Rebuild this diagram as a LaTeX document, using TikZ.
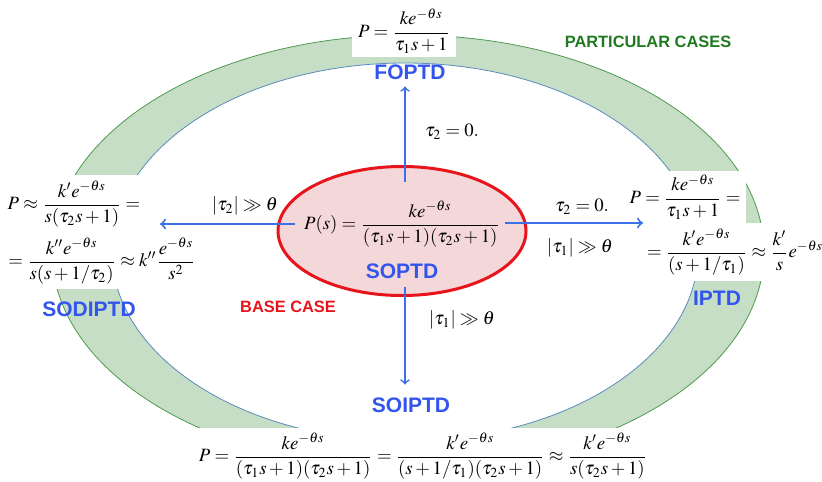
\documentclass[tikz,border=0pt]{standalone}
\usepackage{amsmath}
\usepackage{mathptmx}
\usepackage[no-math]{fontspec}
\newfontfamily\labelfont{Liberation Sans}
\usetikzlibrary{positioning,shapes.geometric}
\definecolor{RingGreen}{HTML}{C6DEC6}
\definecolor{RingEdge}{HTML}{4E9A4E}
\definecolor{InnerEdge}{HTML}{5A8CBC}
\definecolor{Pink}{HTML}{F4D7D9}
\definecolor{BaseRed}{HTML}{E8141B}
\definecolor{CaseBlue}{HTML}{3355EE}
\definecolor{ArrBlue}{HTML}{3F6FE6}
\definecolor{CaseGreen}{HTML}{1F7A1F}

\begin{document}
\begin{tikzpicture}[x=.5pt,y=-.5pt,
        every node/.style={font=\fontsize{9.4}{11}\selectfont},
        box/.style={fill=white,inner xsep=3pt,inner ysep=2pt},
        case/.style={font=\labelfont\bfseries\fontsize{10.5}{12}\selectfont,text=CaseBlue},
        note/.style={font=\labelfont\bfseries\fontsize{8.2}{10}\selectfont},
        arr/.style={->,ArrBlue,line width=.8pt}
      ]
        \useasboundingbox (0,0) rectangle (822,481);
        % ring of particular cases
        \fill[RingGreen,even odd rule] (408,252) ellipse [x radius=356,y radius=217]
                                       (405,252) ellipse [x radius=293,y radius=189];
        \draw[RingEdge,line width=.4pt] (408,252) ellipse [x radius=356,y radius=217];
        \draw[InnerEdge,line width=.4pt] (405,252) ellipse [x radius=293,y radius=189];
        % base case
        \node[ellipse,draw=BaseRed,fill=Pink,line width=1.5pt,inner sep=0pt,
              minimum width=124pt,minimum height=64.5pt] (base) at (402,231) {};
        \node (baseeq) at (402,224) {$P(s)=\dfrac{ke^{-\theta s}}{(\tau_1 s+1)(\tau_2 s+1)}$};
        \node[case] (soptd) at (402,271) {SOPTD};
        % particular cases
        \node[box] (foptdeq) at (404,31) {$P=\dfrac{ke^{-\theta s}}{\tau_1 s+1}$};
        \node[case] (foptd) at (410,72) {FOPTD};
        \node[box,minimum height=29.5pt] (leq1) at (74,204) {$P\approx\dfrac{k'e^{-\theta s}}{s(\tau_2 s+1)}=$};
        \node[box,minimum height=28pt] (leq2) at (102,261) {$=\dfrac{k''e^{-\theta s}}{s(s+1/\tau_2)}\approx k''\dfrac{e^{-\theta s}}{s^2}$};
        \node[case] (sodiptd) at (89,309) {SODIPTD};
        \node[box,minimum height=26pt] (req1) at (685,197) {$P=\dfrac{ke^{-\theta s}}{\tau_1 s+1}=$};
        \node[box,minimum height=29pt] (req2) at (735,252) {$=\dfrac{k'e^{-\theta s}}{(s+1/\tau_1)}\approx\dfrac{k'}{s}e^{-\theta s}$};
        \node[case] (iptd) at (717,298) {IPTD};
        \node[box,minimum height=28pt] (boteq) at (423,456) {$P=\dfrac{ke^{-\theta s}}{(\tau_1 s+1)(\tau_2 s+1)}=\dfrac{k'e^{-\theta s}}{(s+1/\tau_1)(\tau_2 s+1)}\approx\dfrac{k'e^{-\theta s}}{s(\tau_2 s+1)}$};
        \node[case] (soiptd) at (411,405) {SOIPTD};
        % labels
        \node[note,text=BaseRed] (basecase) at (288,307) {BASE CASE};
        \node[note,text=CaseGreen] (partcases) at (648,42) {PARTICULAR CASES};
        \node (upcond) at (452,132) {$\tau_2=0.$};
        \node (leftcond) at (245,206) {$|\tau_2|\gg\theta$};
        \node (rightcond) at (582,207) {$\tau_2=0.$};
        \node (rightcond2) at (580,248) {$|\tau_1|\gg\theta$};
        \node (downcond) at (462,320) {$|\tau_1|\gg\theta$};
        % arrows
        \coordinate (upfrom) at (405,182);
        \coordinate (downfrom) at (405,287);
        \coordinate (leftfrom) at (295,224);
        \coordinate (leftto) at (160,224);
        \coordinate (rightfrom) at (505,223);
        \coordinate (rightto) at (643,223);
        \draw[arr] (upfrom)--(upfrom |- foptd.south);
        \draw[arr,shorten >=3pt] (downfrom)--(downfrom |- soiptd.north);
        \draw[arr,line width=1pt] (leftfrom)--(leftto);
        \draw[arr,line width=1pt] (rightfrom)--(rightto);
      \end{tikzpicture}
\end{document}
